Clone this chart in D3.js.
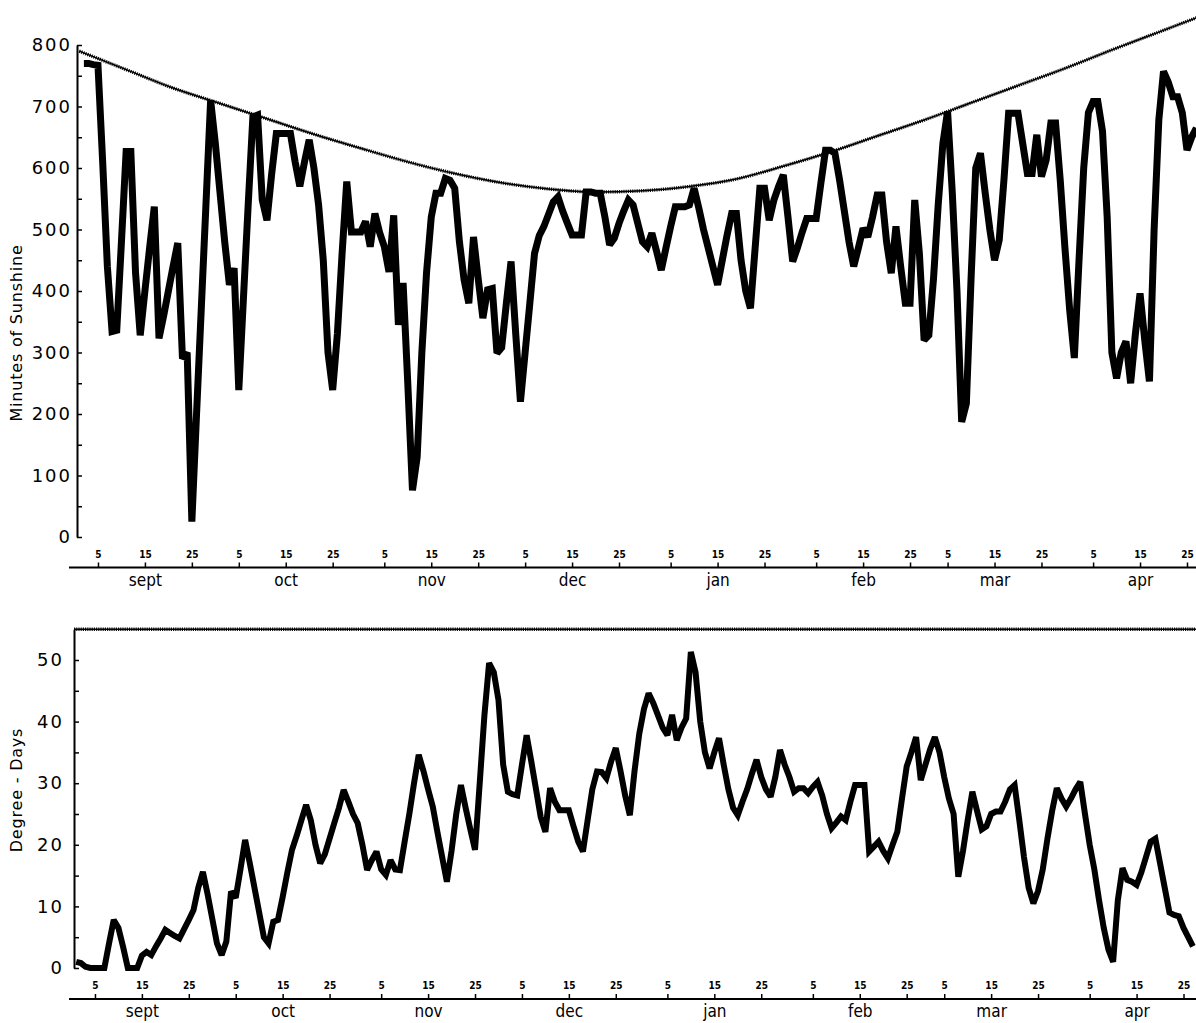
<!DOCTYPE html>
<html><head><meta charset="utf-8">
<script src="https://cdn.jsdelivr.net/npm/d3@7/dist/d3.min.js"></script>
<style>
body{margin:0;background:#fff;}
svg{display:block;background:#fff;}
</style></head><body>
<svg id="chart" width="1196" height="1023"></svg>
<script>
// ---- data ----
const months = ["sept","oct","nov","dec","jan","feb","mar","apr"];
const monthLengths = [30,31,30,31,31,28,31,30];
const tickDays = [5,15,25];

// Minutes of sunshine, daily, starting Sept 2 (day index 1)
const sunshineStart = 1;
const sunshine = [
 770,770,768,767,610,440,334,336,480,627,
 627,430,328,400,470,537,323,360,400,440,
 478,290,300,25,200,370,540,710,640,560,
 480,410,437,239,390,540,683,686,548,515,
 590,656,656,656,656,610,570,610,646,600,
 540,450,300,239,330,460,578,496,496,496,
 513,472,526,495,472,431,523,345,413,250,
 76,130,300,430,520,559,559,583,580,567,
 480,418,380,488,420,356,402,404,299,308,
 380,448,330,220,300,380,461,490,505,525,
 545,553,530,510,491,491,491,561,561,559,
 559,520,475,486,510,530,548,540,510,480,
 472,494,465,434,470,505,537,537,537,540,
 567,535,500,470,440,410,450,490,526,526,
 450,400,372,470,567,567,515,548,570,589,
 520,448,470,495,518,518,518,575,629,629,
 624,580,530,480,440,470,502,488,520,556,
 556,480,429,505,440,380,380,548,460,320,
 328,420,540,640,692,560,400,187,217,420,
 600,624,560,500,450,483,580,689,689,689,
 640,591,591,654,586,613,673,673,580,470,
 370,291,450,600,690,708,708,660,520,300,
 258,300,318,250,330,396,320,253,500,678,
 757,740,716,716,690,629,650,665
];

// Possible sunshine (smooth upper curve), every 10 days from Sept 1
const maxSunDays = [0,10,20,30,40,50,60,70,80,90,100,110,120,130,140,150,160,170,180,190,200,210,220,230,240];
const maxSunshine = [790,760,730,705,680,655,632,610,591,576,566,561,563,570,582,603,626,652,678,706,734,762,792,821,850];

// Degree-days, daily, starting Sept 1 (day index 0)
const degreeStart = 0;
const degreeDays = [
 1,0.8,0.2,0,0,0,0,4,7.8,6.5,
 3.4,0,0,0,2,2.6,2.1,3.5,4.8,6.2,
 5.7,5.2,4.8,6.3,7.8,9.4,13,15.6,12,8,
 4,2.1,4.3,12.4,11.4,16,20.8,17,13,9,
 5,4,7.5,7.8,11.5,15.5,19.2,21.5,24,26.5,
 24,20,17,18.5,21,23.5,26,28.9,27,25,
 23.5,20,15.9,17.5,18.9,16,15.1,17.5,16,15.9,
 20.5,25,30,34.6,32,29,26.2,22,18,14,
 19,25,29.7,26,22.5,19.2,30,41,49.5,48,
 43.5,33,28.6,28.2,28,33,37.8,33.5,29,24.5,
 22.1,29.2,27,25.6,25.6,25.6,23,20.5,18.9,24,
 29,31.9,31.8,30.8,33.5,35.7,32,28,24.8,32,
 38,42,44.6,43,41,39,37.8,41.1,37,39,
 40.5,51.3,48,40,35,32.4,35,37.3,33,29,
 26,24.8,27,29,31.5,33.8,31,29,27.8,31,
 35.4,33,31,28.6,29.2,29.2,28.4,29.4,30.2,28,
 25,22.7,23.6,24.6,24,27,29.7,29.7,29.7,18.9,
 19.7,20.5,19,17.8,20,22.1,27.5,32.7,35,37.5,
 30.5,33,35.5,37.5,35,31,27.5,25,14.8,19,
 24,28.6,25.5,22.5,23,25,25.4,25.4,27,29,
 29.7,24,18,13,10.5,12.5,16,21,25.5,29.2,
 27.5,26.2,27.5,29,30.2,25,20,16,11,6.5,
 3,1,11,16.2,14.3,14,13.5,15.5,18,20.5,
 21,17,13,9,8.6,8.4,6.5,5,3.5
];
const degreeRef = 55; // horizontal reference line at top of lower panel

const sunTicks = [0,50,100,150,200,250,300,350,400,450,500,550,600,650,700,750,800];
const degTicks = [0,5,10,15,20,25,30,35,40,45,50];

// ---- layout ----
const svg = d3.select("#chart");
const W = 1196;
const starts = Array.from(d3.cumsum([0].concat(monthLengths.slice(0,-1))));
const dayTicks = [];
months.forEach((m,i)=> tickDays.forEach(t => dayTicks.push({v: starts[i]+t-1, label: String(t)})));
const monthMid = starts.map(s => s + 14);

const xTop = d3.scaleLinear().domain([0,238]).range([79.2, 79.2 + 238*4.694]);
const yTop = d3.scaleLinear().domain([0,800]).range([537, 45]);
const xBot = d3.scaleLinear().domain([0,238]).range([76.2, 76.2 + 238*4.692]);
const yBot = d3.scaleLinear().domain([0,55]).range([968, 968 - 55*6.16]);

const numFont = "'DejaVu Sans', sans-serif";
const condFont = "'DejaVu Sans Condensed', 'Liberation Sans Narrow', 'DejaVu Sans', sans-serif";

function styleYAxis(g, fs){
  g.select(".domain").attr("stroke","#000").attr("stroke-width",2);
  g.selectAll(".tick line").attr("stroke","#000").attr("stroke-width",1.5);
  g.selectAll(".tick text").attr("font-family",numFont).attr("font-size",fs)
    .attr("fill","#000").attr("letter-spacing","2px");
}
function drawXAxis(x, yLine, x0){
  svg.append("line").attr("x1",x0).attr("x2",W).attr("y1",yLine).attr("y2",yLine)
     .attr("stroke","#000").attr("stroke-width",1.8);
  const gt = svg.append("g").attr("transform",`translate(0,${yLine})`)
    .call(d3.axisTop(x).tickValues(dayTicks.map(d=>d.v))
      .tickFormat((v,i)=>dayTicks[i].label).tickSize(5).tickPadding(5));
  gt.select(".domain").remove();
  gt.selectAll(".tick line").attr("stroke","#000").attr("stroke-width",1.5);
  gt.selectAll(".tick text").attr("font-family",condFont).attr("font-weight","bold")
    .attr("font-size",10).attr("fill","#000");
  const gm = svg.append("g").attr("transform",`translate(0,${yLine})`)
    .call(d3.axisBottom(x).tickValues(monthMid).tickFormat((v,i)=>months[i])
      .tickSize(0).tickPadding(6));
  gm.select(".domain").remove();
  gm.selectAll(".tick text").attr("font-family",condFont).attr("font-size",17).attr("fill","#000");
}
function hatched(path){
  path.clone().attr("stroke","#000").attr("stroke-width",1.5);
  path.attr("stroke","#111").attr("stroke-width",3.4).attr("stroke-dasharray","1.2,1");
}

// ---- top panel ----
const gyT = svg.append("g").attr("transform","translate(77,0)")
  .call(d3.axisLeft(yTop).tickValues(sunTicks)
    .tickFormat(v => v % 100 === 0 ? String(v) : "")
    .tickSizeInner(-5).tickSizeOuter(0).tickPadding(5));
styleYAxis(gyT, 18);

svg.append("text").attr("transform","translate(22,333) rotate(-90)")
  .attr("text-anchor","middle").attr("font-family",numFont).attr("font-size",16)
  .attr("letter-spacing","0.8px").text("Minutes of Sunshine");

const curveData = maxSunDays.map((d,i)=>[d, maxSunshine[i]]);
const maxLine = d3.line().x(d=>xTop(d[0])).y(d=>yTop(d[1])).curve(d3.curveMonotoneX);
hatched(svg.append("path").attr("d",maxLine(curveData)).attr("fill","none"));

const sunLine = d3.line().x((d,i)=>xTop(i+sunshineStart)).y(d=>yTop(d));
svg.append("path").attr("d",sunLine(sunshine)).attr("fill","none")
  .attr("stroke","#000").attr("stroke-width",7)
  .attr("stroke-linejoin","miter").attr("stroke-miterlimit",2.5);

drawXAxis(xTop, 567.5, 69);

// ---- bottom panel ----
const gyB = svg.append("g").attr("transform","translate(74,0)")
  .call(d3.axisLeft(yBot).tickValues(degTicks)
    .tickFormat(v => v % 10 === 0 ? String(v) : "")
    .tickSizeInner(-5).tickSizeOuter(0).tickPadding(10));
styleYAxis(gyB, 18);

svg.append("text").attr("transform","translate(22,790) rotate(-90)")
  .attr("text-anchor","middle").attr("font-family",numFont).attr("font-size",16)
  .attr("letter-spacing","0.8px").text("Degree - Days");

hatched(svg.append("path")
  .attr("d", d3.line()([[74, yBot(degreeRef)],[W, yBot(degreeRef)]])).attr("fill","none"));

const degLine = d3.line().x((d,i)=>xBot(i+degreeStart)).y(d=>yBot(d));
svg.append("path").attr("d",degLine(degreeDays)).attr("fill","none")
  .attr("stroke","#000").attr("stroke-width",6)
  .attr("stroke-linejoin","miter").attr("stroke-miterlimit",2.5);

drawXAxis(xBot, 999, 69);
</script></body></html>
